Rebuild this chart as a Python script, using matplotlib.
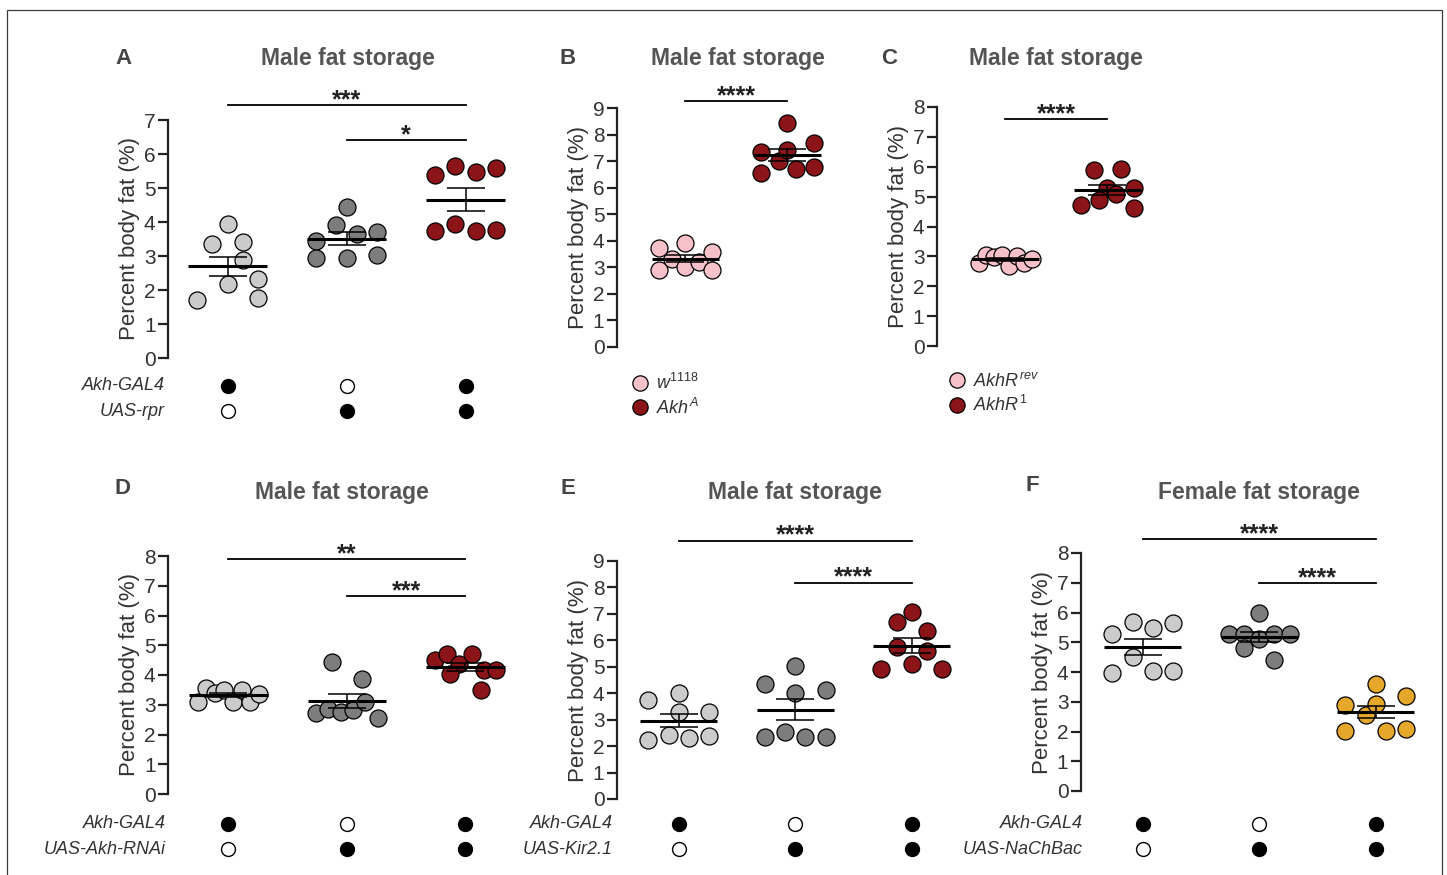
import matplotlib
matplotlib.use('Agg')
import matplotlib.pyplot as plt
import numpy as np
from matplotlib.lines import Line2D
from matplotlib.patches import Rectangle
from matplotlib.transforms import blended_transform_factory

plt.rcParams['font.family'] = ['Liberation Sans', 'DejaVu Sans']
plt.rcParams['mathtext.fontset'] = 'custom'
plt.rcParams['mathtext.rm'] = 'Liberation Sans'
plt.rcParams['mathtext.it'] = 'Liberation Sans:italic'
plt.rcParams['mathtext.bf'] = 'Liberation Sans:bold'

W, H = 1447, 875

# ---- data (percent body fat per fly sample) ----
a_gal4 = [3.34, 1.70, 3.93, 3.42, 2.88, 2.19, 2.32, 1.77]
a_uas = [3.44, 2.93, 4.45, 3.91, 3.66, 2.93, 3.71, 3.02]
a_both = [5.38, 5.65, 5.48, 5.60, 3.74, 3.93, 3.74, 3.76]

b_w1118 = [2.90, 3.31, 3.71, 3.02, 3.90, 3.21, 3.59, 2.90]
b_akh = [7.33, 6.57, 6.99, 8.43, 7.43, 6.70, 7.68, 6.77]

c_rev = [2.78, 3.03, 2.98, 3.03, 2.68, 3.01, 2.78, 2.90]
c_akhr1 = [4.73, 5.30, 5.88, 4.90, 5.94, 5.10, 5.30, 4.63]

d_gal4 = [3.10, 3.55, 3.41, 3.51, 3.10, 3.51, 3.10, 3.36]
d_uas = [2.71, 2.85, 4.44, 3.88, 2.76, 2.82, 3.10, 2.54]
d_both = [4.50, 4.70, 4.36, 4.70, 4.16, 4.03, 4.18, 3.51]

e_gal4 = [3.74, 2.25, 3.30, 2.42, 3.99, 3.30, 2.29, 2.38]
e_uas = [4.34, 2.33, 3.99, 2.54, 5.02, 4.12, 2.33, 2.35]
e_both = [6.70, 4.93, 5.75, 5.09, 7.07, 6.36, 5.60, 4.93]

f_gal4 = [5.29, 3.97, 5.68, 4.51, 5.48, 4.04, 5.65, 4.04]
f_uas = [5.27, 5.27, 5.12, 6.00, 4.82, 5.27, 5.27, 4.42]
f_both = [3.59, 2.89, 2.03, 2.55, 2.94, 2.03, 3.20, 2.10]

# genotype matrix (1 = present)
gal4_row = [1, 0, 1]
uas_row = [0, 1, 1]

LIGHT = '#cbcbcb'
DARK = '#7d7d7d'
RED = '#8b1418'
PINK = '#f6c1c9'
YELLOW = '#e6a82a'

panels = [
    dict(letter='A', title='Male fat storage', groups=[a_gal4, a_uas, a_both], colors=[LIGHT, DARK, RED],
         left=168, bottom=358, top=120, xlim=(-0.5, 2.5), xw=119, ymax=7,
         sig=[(0, 2, 7.44, '***'), (1, 2, 6.41, '*')],
         title_xy=(348, 59), letter_xy=(123, 58),
         geno=('Akh-GAL4', 'UAS-rpr'), geno_x=165, geno_y=(386, 411)),
    dict(letter='B', title='Male fat storage', groups=[b_w1118, b_akh], colors=[PINK, RED],
         left=617, bottom=347, top=108, xlim=(-0.67, 1.5), xw=102, ymax=9,
         sig=[(0, 1, 9.25, '****')],
         title_xy=(738, 59), letter_xy=(568, 58),
         legend=([r'$\mathit{w}^{\mathit{1118}}$', r'$\mathit{Akh}^{\mathit{A}}$'], (631, 373))),
    dict(letter='C', title='Male fat storage', groups=[c_rev, c_akhr1], colors=[PINK, RED],
         left=937, bottom=346, top=107, xlim=(-0.67, 1.5), xw=102, ymax=8,
         sig=[(0, 1, 7.6, '****')],
         title_xy=(1056, 59), letter_xy=(889, 58),
         legend=([r'$\mathit{AkhR}^{\mathit{rev}}$', r'$\mathit{AkhR}^{\mathit{1}}$'], (948, 372))),
    dict(letter='D', title='Male fat storage', groups=[d_gal4, d_uas, d_both], colors=[LIGHT, DARK, RED],
         left=168, bottom=794, top=556, xlim=(-0.51, 2.5), xw=118.5, ymax=8,
         sig=[(0, 2, 7.89, '**'), (1, 2, 6.64, '***')],
         title_xy=(342, 492), letter_xy=(123, 489),
         geno=('Akh-GAL4', 'UAS-Akh-RNAi'), geno_x=166, geno_y=(824, 849)),
    dict(letter='E', title='Male fat storage', groups=[e_gal4, e_uas, e_both], colors=[LIGHT, DARK, RED],
         left=617, bottom=799, top=561, xlim=(-0.53, 2.5), xw=116.5, ymax=9,
         sig=[(0, 2, 9.77, '****'), (1, 2, 8.18, '****')],
         title_xy=(795, 492), letter_xy=(568, 489),
         geno=('Akh-GAL4', 'UAS-Kir2.1'), geno_x=613, geno_y=(824, 849)),
    dict(letter='F', title='Female fat storage', groups=[f_gal4, f_uas, f_both], colors=[LIGHT, DARK, YELLOW],
         left=1081, bottom=791, top=553, xlim=(-0.53, 2.5), xw=116.5, ymax=8,
         sig=[(0, 2, 8.47, '****'), (1, 2, 6.99, '****')],
         title_xy=(1259, 492), letter_xy=(1032, 486),
         geno=('Akh-GAL4', 'UAS-NaChBac'), geno_x=1083, geno_y=(824, 849)),
]


def swarm_offsets(vals, sy, limit, diam=17.0):
    # Prism-like scatter: close values share a row, rows are spread over the column width
    vals = np.asarray(vals, float)
    thr = diam / sy
    order = np.argsort(vals, kind='stable')
    offs = np.zeros(len(vals))
    placed = []
    k = 0
    while k < len(order):
        row = [order[k]]
        k += 1
        while k < len(order) and vals[order[k]] - vals[row[0]] < thr:
            row.append(order[k])
            k += 1
        row.sort()
        n = len(row)
        sp = limit if n < 3 else 2 * limit / (n - 1)
        base = (np.arange(n) - (n - 1) / 2) * sp
        ys = vals[row] * sy
        best, best_d = base, -1.0
        for shift in [0, limit / 2, -limit / 2, limit, -limit]:
            xs = base + shift
            if np.abs(xs).max() > limit + 0.5:
                continue
            d = np.inf
            for px, py in placed:
                d = min(d, np.min(np.hypot(xs - px, ys - py)))
            if d >= 0.95 * diam:
                best = xs
                break
            if d > best_d:
                best_d, best = d, xs
        offs[row] = best
        placed.extend(zip(best, ys))
    return offs


fig = plt.figure(figsize=(W / 100, H / 100), dpi=100)
fig.add_artist(Rectangle((7 / W, -0.1), (1442 - 7) / W, 1.1 - 10 / H, transform=fig.transFigure,
                         fill=False, edgecolor='#3c3c3c', lw=0.9))

for p in panels:
    x0, x1 = p['xlim']
    wpx = (x1 - x0) * p['xw']
    ax = fig.add_axes([p['left'] / W, 1 - p['bottom'] / H, wpx / W, (p['bottom'] - p['top']) / H])
    ax.set_xlim(x0, x1)
    ax.set_ylim(0, p['ymax'])
    for s in ['top', 'right', 'bottom']:
        ax.spines[s].set_visible(False)
    ax.spines['left'].set_linewidth(1.6)
    ax.spines['left'].set_color('#222222')
    ax.set_xticks([])
    ax.set_yticks(range(0, p['ymax'] + 1))
    ax.tick_params(axis='y', length=7, width=1.6, color='#222222', labelsize=15, labelcolor='#333333', pad=2)
    ax.set_ylabel('Percent body fat (%)', fontsize=16, color='#333333', labelpad=3)

    t0 = ax.transData.transform((0, 0))
    t1 = ax.transData.transform((1, 1))
    sx, sy = t1[0] - t0[0], t1[1] - t0[1]

    for i, (vals, col) in enumerate(zip(p['groups'], p['colors'])):
        vals = np.asarray(vals, float)
        offs = swarm_offsets(vals, sy, 0.26 * sx)
        ax.scatter(i + offs / sx, vals, s=150, facecolor=col, edgecolor='black', linewidth=0.9,
                   zorder=2, clip_on=False)
        mean = vals.mean()
        sem = vals.std(ddof=1) / np.sqrt(len(vals))
        ax.hlines(mean, i - 0.33, i + 0.33, color='black', lw=2.2, zorder=4)
        ax.errorbar(i, mean, yerr=sem, fmt='none', ecolor='black', elinewidth=1.1, capsize=14,
                    capthick=1.1, zorder=4)

    for g1, g2, h, lab in p['sig']:
        ax.plot([g1, g2], [h, h], color='black', lw=1.3, clip_on=False)
        ax.annotate(lab, xy=((g1 + g2) / 2, h), xytext=(0, -1.5), textcoords='offset points',
                    ha='center', va='baseline', fontsize=18, fontweight='bold', color='#222222',
                    annotation_clip=False)

    fig.text(p['title_xy'][0] / W, 1 - p['title_xy'][1] / H, p['title'], ha='center', va='center',
             fontsize=16.5, fontweight='bold', color='#555555')
    fig.text(p['letter_xy'][0] / W, 1 - p['letter_xy'][1] / H, p['letter'], ha='center', va='center',
             fontsize=16, fontweight='bold', color='#444444')

    if 'geno' in p:
        trans = blended_transform_factory(ax.transData, fig.transFigure)
        for name, row, ypx in zip(p['geno'], [gal4_row, uas_row], p['geno_y']):
            fig.text(p['geno_x'] / W, 1 - ypx / H, name, ha='right', va='center', fontsize=13,
                     style='italic', color='#333333')
            for i, on in enumerate(row):
                ax.plot(i, 1 - ypx / H, 'o', transform=trans, ms=10, mfc='black' if on else 'white',
                        mec='black', mew=1.0, clip_on=False)

    if 'legend' in p:
        labels, (lx, ly) = p['legend']
        handles = [Line2D([], [], ls='none', marker='o', ms=11, mfc=c, mec='black', mew=0.9)
                   for c in p['colors']]
        ax.legend(handles, labels, loc='upper left', bbox_to_anchor=(lx / W, 1 - ly / H),
                  bbox_transform=fig.transFigure, frameon=False, fontsize=13, handlelength=1.0,
                  handletextpad=0.4, borderpad=0, borderaxespad=0, labelspacing=0.25,
                  labelcolor='#333333')

fig.savefig('out.png', dpi=100)
